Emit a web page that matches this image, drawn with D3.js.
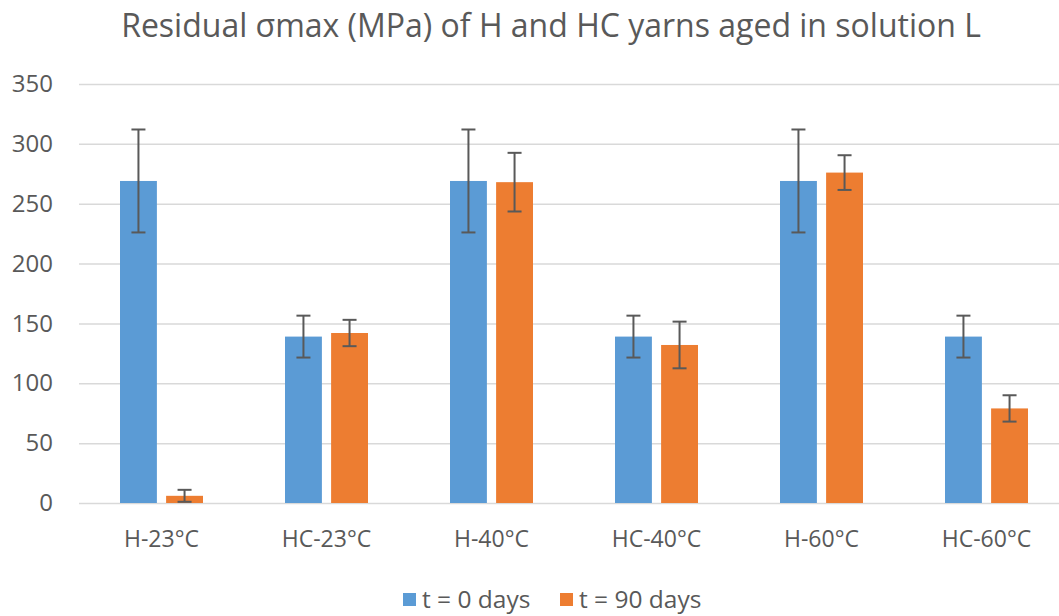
<!DOCTYPE html>
<html><head><meta charset="utf-8">
<script src="https://cdn.jsdelivr.net/npm/d3@7"></script>
<style>body{margin:0;background:#fff}svg{display:block}text{font-family:"Open Sans",sans-serif;fill:#595959}</style>
</head><body><svg id="c" width="1059" height="616"></svg>
<script>
const categories = ["H-23°C","HC-23°C","H-40°C","HC-40°C","H-60°C","HC-60°C"];
const seriesNames = ["t = 0 days","t = 90 days"];
const t0Values = [269,139,269,139,269,139];
const t0Errors = [43,17.5,43,17.5,43,17.5];
const t90Values = [6,142,268,132,276,79];
const t90Errors = [5,11,24.5,19.5,14.5,11];
const yTicks = [0,50,100,150,200,250,300,350];
const colors = ["#5B9BD5","#ED7D31"];
const titleText = "Residual σmax (MPa) of H and HC yarns aged in solution L";

const svg = d3.select("#c");
const x = d3.scaleBand().domain(categories).range([79,1069]);
const y = d3.scaleLinear().domain([0,350]).range([503,84]);
const xs = d3.scaleBand().domain([0,1]).range([-41.5,41.5]).paddingInner(0.2);

svg.append("text").attr("x",551).attr("y",37).attr("text-anchor","middle")
  .style("font-size","32px").text(titleText);

const yAxis = d3.axisLeft(y).tickValues(yTicks).tickSize(-(1069-79)).tickPadding(26);
const ga = svg.append("g").attr("transform","translate(79,0)").call(yAxis);
ga.select(".domain").remove();
ga.selectAll(".tick line").attr("stroke","#d9d9d9").attr("stroke-width",1.5);
ga.selectAll(".tick text").style("font-size","24px").attr("fill","#595959");

const data = categories.map((c,i)=>({c, v:[t0Values[i],t90Values[i]], e:[t0Errors[i],t90Errors[i]]}));
const groups = svg.selectAll("g.grp").data(data).join("g").attr("class","grp")
  .attr("transform",d=>`translate(${x(d.c)+x.bandwidth()/2},0)`);
[0,1].forEach(s=>{
  groups.append("rect").attr("x",xs(s)).attr("width",xs.bandwidth())
    .attr("y",d=>y(d.v[s])).attr("height",d=>y(0)-y(d.v[s])).attr("fill",colors[s]);
});
[0,1].forEach(s=>{
  const cx = xs(s)+xs.bandwidth()/2;
  groups.append("line").attr("x1",cx).attr("x2",cx)
    .attr("y1",d=>y(d.v[s]+d.e[s])).attr("y2",d=>y(Math.max(0,d.v[s]-d.e[s])))
    .attr("stroke","#595959").attr("stroke-width",2);
  ["+","-"].forEach(sg=>{
    groups.append("line").attr("x1",cx-7).attr("x2",cx+7)
      .attr("y1",d=>y(sg==="+"?d.v[s]+d.e[s]:Math.max(0,d.v[s]-d.e[s])))
      .attr("y2",d=>y(sg==="+"?d.v[s]+d.e[s]:Math.max(0,d.v[s]-d.e[s])))
      .attr("stroke","#595959").attr("stroke-width",2);
  });
});

const xAxis = d3.axisBottom(x).tickSize(0).tickPadding(28);
const gx = svg.append("g").attr("transform","translate(0,503)").call(xAxis);
gx.select(".domain").remove();
gx.selectAll(".tick text").style("font-size","23px").attr("fill","#595959");

const leg = svg.append("g");
const lx = [403,560];
seriesNames.forEach((n,i)=>{
  leg.append("rect").attr("x",lx[i]).attr("y",593).attr("width",13).attr("height",13).attr("fill",colors[i]);
  leg.append("text").attr("x",lx[i]+19).attr("y",608).style("font-size","24.5px").text(n);
});
</script></body></html>
